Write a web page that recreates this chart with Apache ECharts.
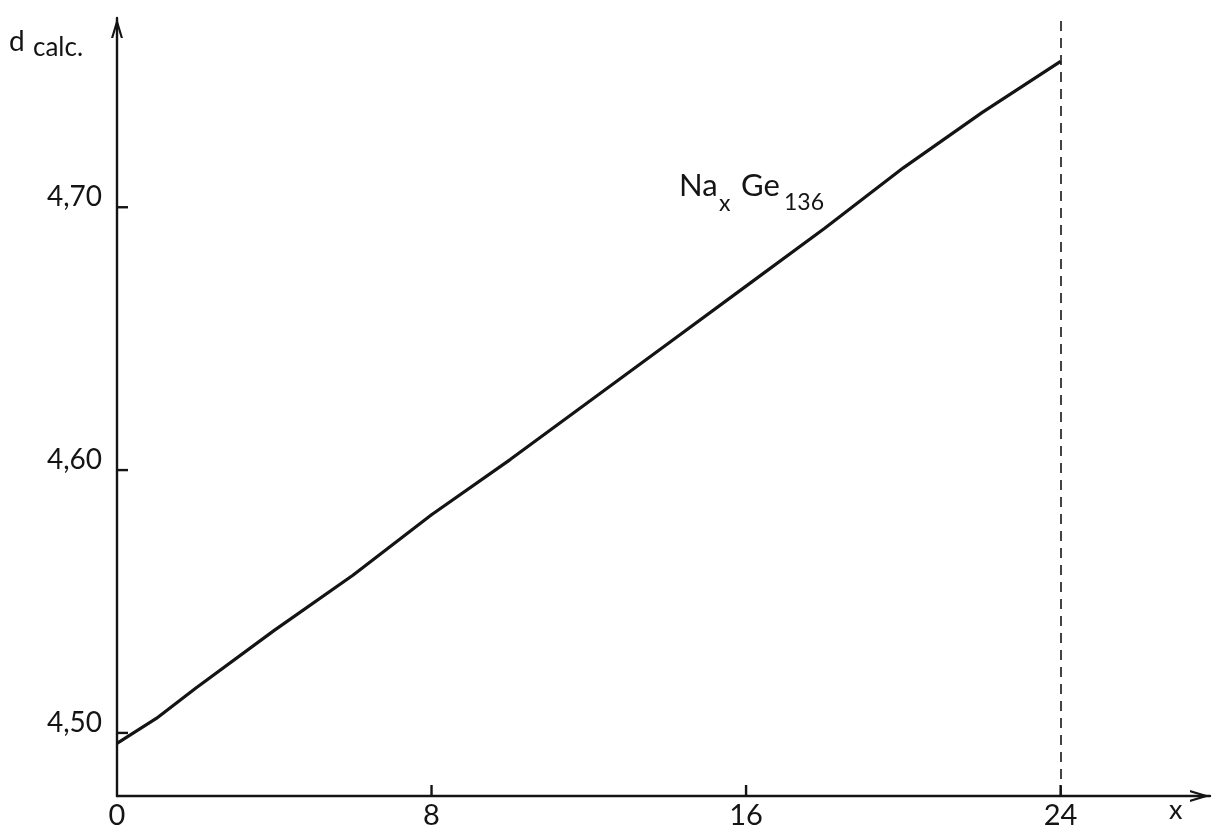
<!DOCTYPE html>
<html><head><meta charset="utf-8">
<script src="https://cdn.jsdelivr.net/npm/echarts@6/dist/echarts.min.js"></script>
<style>html,body{margin:0;padding:0;background:#fff}#c{width:1213px;height:830px}</style>
</head><body><div id="c"></div><script>
// Data
const xValues = [0, 1, 2, 4, 6, 8, 10, 12, 14, 16, 18, 20, 22, 24];
const dCalc  = [4.496, 4.5055, 4.517, 4.539, 4.560, 4.583, 4.604, 4.626, 4.648, 4.670, 4.692, 4.715, 4.736, 4.7555];
const xTicks = [0, 8, 16, 24];
const yTicks = [4.50, 4.60, 4.70];
const yTickLabels = ['4,50', '4,60', '4,70'];
const xRange = [0, 27.8];
const yRange = [4.476, 4.772];
const xLimit = 24;

const chart = echarts.init(document.getElementById('c'));
const FONT = 'Lato';
const INK = '#141414';
const chevron = 'path://M0,0 L6,20 L3.8,20 L0,7.5 L-3.8,20 L-6,20 Z';

const lineData = xValues.map((x, i) => [x, dCalc[i]]);

// tick lengths expressed in axis units (about 12 px each)
const xTickLen = 0.0046;   // along y
const yTickLen = 0.30;     // along x
const solidTick = { type: 'solid', width: 2.6, color: INK };

chart.setOption({
  backgroundColor: '#fff',
  animation: false,
  grid: { left: 117, right: 3, top: 18, bottom: 34, containLabel: false },
  xAxis: {
    type: 'value', min: xRange[0], max: xRange[1],
    splitLine: { show: false },
    axisLine: { show: true, lineStyle: { color: INK, width: 2.4 },
      symbol: ['none', chevron], symbolSize: [15, 20], symbolOffset: [0, -10] },
    axisTick: { show: false },
    axisLabel: { show: true, margin: 5, color: INK, fontFamily: FONT, fontSize: 29, customValues: xTicks,
      formatter: v => String(v) }
  },
  yAxis: {
    type: 'value', min: yRange[0], max: yRange[1],
    splitLine: { show: false },
    axisLine: { show: true, lineStyle: { color: INK, width: 2.4 },
      symbol: ['none', chevron], symbolSize: [14, 20], symbolOffset: [0, -10] },
    axisTick: { show: false },
    axisLabel: { show: true, margin: 15, color: INK, fontFamily: FONT, fontSize: 28, customValues: yTicks,
      verticalAlign: 'bottom', lineHeight: 20,
      formatter: v => { const i = yTicks.findIndex(t => Math.abs(t - v) < 1e-6); return i >= 0 ? yTickLabels[i] : ''; } }
  },
  series: [{
    type: 'line',
    data: lineData,
    showSymbol: false,
    smooth: false,
    z: 3,
    lineStyle: { color: INK, width: 3.2 },
    markLine: {
      silent: true, symbol: 'none', label: { show: false },
      lineStyle: { color: INK, width: 1.6, type: [10, 7] },
      data: [
        [{ coord: [xValues[0], yRange[0]] }, { coord: [xValues[0], dCalc[0]] }],
        [{ coord: [xLimit, yRange[0]] }, { coord: [xLimit, yRange[1]] }]
      ]
    }
  }, {
    // tick marks on both axes, drawn as short solid segments through the axes' scales
    type: 'custom',
    silent: true,
    clip: false,
    z: 4,
    data: [
      ...xTicks.filter(v => v > xRange[0]).map(v => [v, yRange[0], 0]),
      ...yTicks.map(v => [xRange[0], v, 1])
    ],
    renderItem: function (params, api) {
      const p = api.coord([api.value(0), api.value(1)]);
      const vertical = api.value(2) === 0;
      return {
        type: 'line',
        shape: vertical
          ? { x1: p[0], y1: p[1], x2: p[0], y2: p[1] - 11 }
          : { x1: p[0], y1: p[1], x2: p[0] + 11, y2: p[1] },
        style: { stroke: INK, lineWidth: 2.4 }
      };
    }
  }],
  graphic: [
    { type: 'text', left: 9, top: 28, style: { text: 'd', font: '28px ' + FONT, fill: INK } },
    { type: 'text', left: 33, top: 35, style: { text: 'calc.', font: '26px ' + FONT, fill: INK } },
    { type: 'text', left: 1169, top: 797, style: { text: 'x', font: '27px ' + FONT, fill: INK } },
    { type: 'text', left: 679, top: 170, style: { text: 'Na', font: '31px ' + FONT, fill: INK } },
    { type: 'text', left: 719, top: 192, style: { text: 'x', font: '23px ' + FONT, fill: INK } },
    { type: 'text', left: 741, top: 170, style: { text: 'Ge', font: '31px ' + FONT, fill: INK } },
    { type: 'text', left: 784, top: 191, style: { text: '136', font: '23px ' + FONT, fill: INK } }
  ]
});
</script></body></html>
